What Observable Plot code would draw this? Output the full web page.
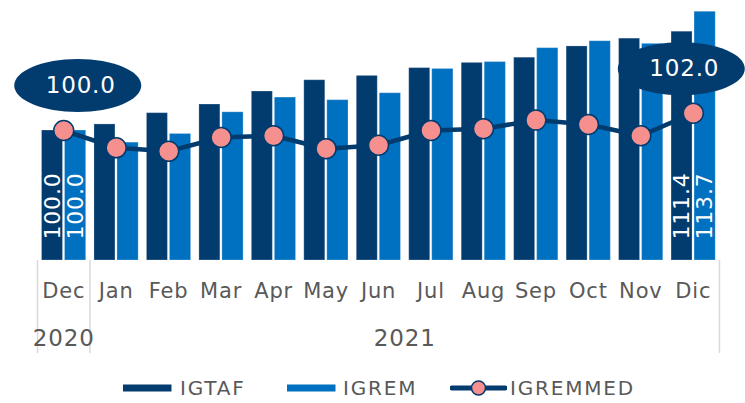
<!DOCTYPE html>
<html><head><meta charset="utf-8">
<script src="https://cdn.jsdelivr.net/npm/d3@7"></script>
<script src="https://cdn.jsdelivr.net/npm/@observablehq/plot@0.6"></script>
<style>
body{margin:0;background:#fff;font-family:"DejaVu Sans",sans-serif;}
#chart{width:745px;height:403px;position:relative;overflow:hidden;background:#fff}
#legend{position:absolute;left:0;top:365px;width:745px;height:38px}
#legend .sw{position:absolute}
#legend .lb{position:absolute;font-size:20px;color:#595959;line-height:20px;letter-spacing:1.8px}
</style></head><body><div id="chart"></div><script>
// ---- data ----
const months = ["Dec","Jan","Feb","Mar","Apr","May","Jun","Jul","Aug","Sep","Oct","Nov","Dic"];
const igtaf = [100.0,100.7,102.0,103.0,104.5,105.8,106.3,107.2,107.8,108.4,109.7,110.6,111.4];
const igrem = [100.0,98.6,99.6,102.1,103.8,103.5,104.3,107.1,107.9,109.5,110.3,110.0,113.7];
const igremmed = [100.0,98.0,97.6,99.2,99.4,97.9,98.3,100.0,100.2,101.2,100.7,99.4,102.0];
const yearLabels = ["2020","2021"];
const yearStart = ["Dec","Jan"];
const yearEnd = ["Dec","Dic"];
const seriesNames = ["IGTAF","IGREM","IGREMMED"];
const yDomain = [85,115];

// ---- layout / style ----
const W=745, H=365, mL=37, mR=26, mT=0, mB=105;
const bw = (W-mL-mR)/months.length;
const navy="#023B6E", blue="#0070C0", pink="#F5908F", grey="#595959", rule="#d9d9d9";

const tafRows = months.map((m,i)=>({month:m, value:igtaf[i]}));
const remRows = months.map((m,i)=>({month:m, value:igrem[i]}));
const medRows = months.map((m,i)=>({month:m, value:igremmed[i]}));
const ends = [0, months.length-1];

// ellipse symbol
function ellipse(rx, ry){
  const k = 0.5523;
  return {draw(c){
    c.moveTo(rx,0);
    c.bezierCurveTo(rx, ry*k, rx*k, ry, 0, ry);
    c.bezierCurveTo(-rx*k, ry, -rx, ry*k, -rx, 0);
    c.bezierCurveTo(-rx, -ry*k, -rx*k, -ry, 0, -ry);
    c.bezierCurveTo(rx*k, -ry, rx, -ry*k, rx, 0);
    c.closePath();
  }};
}

const tafIn = [4.5, bw-25.5], remIn = [27.5, bw-48.7];
const tafC = (tafIn[0] + (bw - tafIn[1]))/2 - bw/2;
const remC = (remIn[0] + (bw - remIn[1]))/2 - bw/2;

const marks = [
  Plot.barY(tafRows, {x:"month", y1:yDomain[0], y2:"value", fill:navy, insetLeft:tafIn[0], insetRight:tafIn[1], stroke:"#ffffff", strokeOpacity:0.25, strokeWidth:1}),
  Plot.barY(remRows, {x:"month", y1:yDomain[0], y2:"value", fill:blue, insetLeft:remIn[0], insetRight:remIn[1], stroke:"#ffffff", strokeOpacity:0.25, strokeWidth:1}),
  // vertical value labels on first and last bars
  Plot.text(ends.map(i=>tafRows[i]), {x:"month", y:yDomain[0], text:d=>d.value.toFixed(1), rotate:-90, textAnchor:"start", dx:tafC, dy:-21, fill:"white", fontSize:22}),
  Plot.text(ends.map(i=>remRows[i]), {x:"month", y:yDomain[0], text:d=>d.value.toFixed(1), rotate:-90, textAnchor:"start", dx:remC, dy:-21, fill:"white", fontSize:22}),
  Plot.line(medRows, {x:"month", y:"value", stroke:navy, strokeWidth:4.5}),
  Plot.dot(medRows, {x:"month", y:"value", r:10, fill:pink, stroke:navy, strokeWidth:1.5}),
  // callouts
  Plot.dot([medRows[0]], {x:"month", y:"value", symbol:ellipse(63.5,26.5), fill:navy, dx:14, dy:-45}),
  Plot.text([medRows[0]], {x:"month", y:"value", text:d=>d.value.toFixed(1), fill:"white", fontSize:23, dx:17, dy:-45}),
  Plot.dot([medRows[months.length-1]], {x:"month", y:"value", symbol:ellipse(63.5,26.5), fill:navy, dx:-12, dy:-44.5}),
  Plot.text([medRows[months.length-1]], {x:"month", y:"value", text:d=>d.value.toFixed(1), fill:"white", fontSize:23, dx:-9, dy:-44.5}),
  // category axis
  Plot.axisX(yearStart, {tickSize:93, tickFormat:()=>"", label:null, dx:-bw/2, color:rule, strokeWidth:1.5}),
  Plot.axisX([yearEnd[yearEnd.length-1]], {tickSize:93, tickFormat:()=>"", label:null, dx:bw/2, color:rule, strokeWidth:1.5}),
  Plot.text(months, {x:d=>d, frameAnchor:"bottom", dy:37, fontSize:21, fill:grey}),
  ...yearLabels.map((lab,j)=>{
    const i0 = months.indexOf(yearStart[j]), i1 = months.indexOf(yearEnd[j]);
    const mid = (i0+i1)/2, base = Math.floor(mid);
    return Plot.text([lab], {x:()=>months[base], frameAnchor:"bottom", dy:85, dx:(mid-base)*bw, fontSize:23, fill:grey});
  })
];

const svg = Plot.plot({
  width:W, height:H, marginLeft:mL, marginRight:mR, marginTop:mT, marginBottom:mB,
  style:{fontFamily:"DejaVu Sans, sans-serif", background:"white", overflow:"visible", letterSpacing:"0.8px"},
  x:{domain:months, padding:0, round:false, axis:null, label:null},
  y:{domain:yDomain, axis:null},
  marks
});
const chart = document.getElementById("chart");
chart.appendChild(svg);

// legend
const lg = document.createElement("div"); lg.id="legend";
const items = [
  {name:seriesNames[0], sx:123, tx:180, type:"bar", color:navy},
  {name:seriesNames[1], sx:286.5, tx:343, type:"bar", color:blue},
  {name:seriesNames[2], sx:450, tx:510, type:"line", color:navy}
];
for(const it of items){
  const s = document.createElementNS("http://www.w3.org/2000/svg","svg");
  s.setAttribute("class","sw");
  s.setAttribute("width", 57); s.setAttribute("height", 20);
  s.style.left = it.sx+"px"; s.style.top = "12.5px";
  if(it.type==="bar"){
    s.innerHTML = `<rect x="0" y="6.5" width="48.5" height="7" fill="${it.color}"/>`;
  } else {
    s.innerHTML = `<line x1="2" y1="10" x2="55" y2="10" stroke="${it.color}" stroke-width="5" stroke-linecap="round"/><circle cx="28.5" cy="10" r="7" fill="${pink}" stroke="${it.color}" stroke-width="1.5"/>`;
  }
  lg.appendChild(s);
  const t = document.createElement("div"); t.className="lb";
  t.textContent = it.name; t.style.left = it.tx+"px"; t.style.top="12.5px";
  lg.appendChild(t);
}
chart.appendChild(lg);
</script></body></html>
